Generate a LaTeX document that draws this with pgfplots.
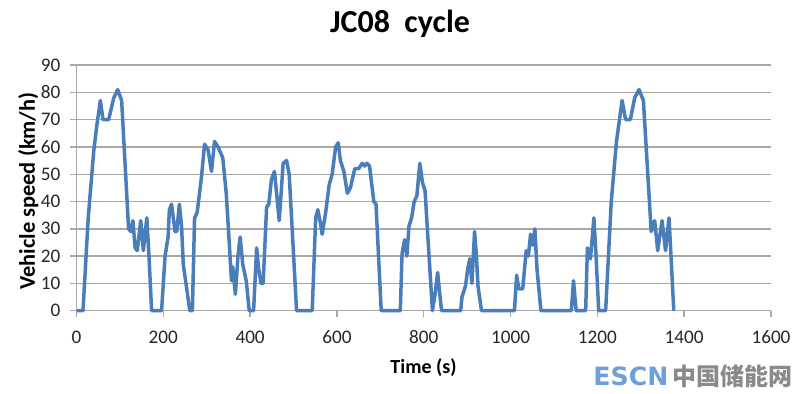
\documentclass[border=0pt]{standalone}
\usepackage{fontspec}
\setmainfont{Carlito}
\newfontfamily\cjk{Noto Sans CJK SC}
\newfontfamily\dvs{DejaVu Sans}
\usepackage{pgfplots}
\pgfplotsset{compat=1.18}
\definecolor{lineblue}{HTML}{4A7EBB}
\definecolor{gridgray}{HTML}{A8A8A8}
\definecolor{wmblue}{HTML}{6E9FD6}
\definecolor{wmgray}{HTML}{8A8A8A}
\begin{document}
\begin{tikzpicture}
\begin{axis}[
  at={(0,0)}, anchor=south west,
  scale only axis,
  width=347.25bp, height=122.85bp,
  xmin=0, xmax=1600, ymin=0, ymax=90,
  xtick={0,200,...,1600}, ytick={0,10,...,90},
  axis lines*=left,
  axis line style={gridgray, line width=0.7bp},
  tick align=outside,
  major tick length=3bp,
  tick style={gridgray, line width=0.7bp},
  ymajorgrids,
  grid style={gridgray, line width=0.7bp},
  ticklabel style={font=\fontsize{9.6bp}{11bp}\selectfont, text=black!85},
  /pgf/number format/assume math mode=true,
  /pgf/number format/1000 sep={},
  xticklabel style={yshift=-3.5bp},
  yticklabel style={xshift=-1.5bp},
  clip=false,
]
\addplot[lineblue, line width=1.75bp, line join=round] coordinates {
(0,0)(15,0)(27,34)(40,59)(47,68)(55,77)(61,70)(74,70)(86,78)(95,81)(104,77)
(120,30)(125,29)(130,33)(135,23)(140,22)(148,33)(154,22)(162,34)(167,20)(173,0)
(196,0)(204,20)(211,27)(214,37)(219,39)(227,29)(231,29)(237,39)(242,31)(246,17)(261,0)
(267,0)(272,34)(278,36)(288,49)(295,61)(303,59)(311,51)(318,62)(326,60)(337,56)(345,43)
(353,22)(357,11)(360,16)(366,6)(372,20)(377,27)(383,17)(391,11)(398,0)
(408,0)(415,23)(420,15)(425,10)(430,10)(438,38)(443,39)(449,48)(456,51)(461,43)(467,33)
(471,42)(476,54)(484,55)(490,50)(507,0)
(543,0)(551,34)(556,37)(562,32)(566,28)(574,36)(582,46)(589,50)(597,60)(603,61.5)(608,55)
(616,51)(624,43)(631,45)(641,52)(650,52)(658,54)(664,53)(669,54)(675,53)(685,40)(690,39)(702,0)
(746,0)(750,21)(756,26)(761,20)(766,31)(772,34)(778,40)(784,42)(791,54)(797,47)(803,44)(811,23)(820,0)
(826,6)(832,14)(837,6)(841,0)
(885,0)(888,5)(896,9)(902,16)(906,19)(911,10)(917,29)(921,21)(925,9)(933,0)
(1009,0)(1014,13)(1019,8)(1028,8)(1036,22)(1041,20)(1046,28)(1051,24)(1056,30)(1061,15)(1070,0)
(1140,0)(1145,11)(1151,0)
(1173,0)(1177,23)(1184,19)(1192,34)(1197,20)(1203,0)
(1219,0)(1232,40)(1244,62)(1257,77)(1265,70)(1276,70)(1286,78)(1296,81)(1306,77)
(1324,29)(1332,33)(1339,22)(1349,33)(1357,22)(1365,34)(1368,25)(1376,0)
};
\end{axis}
\path[use as bounding box] (-38.25bp,-41.65bp) rectangle (361.75bp,155.35bp);
\node[anchor=base, font=\fontsize{16bp}{18bp}\selectfont\bfseries] at (161.75bp,138.85bp) {JC08\ \ cycle};
\node[anchor=base, font=\fontsize{10bp}{12bp}\selectfont\bfseries] at (173.5bp,-31.15bp) {Time (s)};
\node[anchor=base, font=\fontsize{11.2bp}{13bp}\selectfont\bfseries, rotate=90] at (-20.75bp,59.85bp) {Vehicle speed (km/h)};
\node[anchor=base west, inner sep=0pt] at (258.25bp,-37.15bp) {\fontsize{12.6bp}{14bp}\selectfont\dvs\bfseries\textcolor{wmblue}{ESCN}\hspace{2bp}\textcolor{wmgray}{\cjk\fontsize{12bp}{14bp}\selectfont 中国储能网}};
\end{tikzpicture}
\end{document}
